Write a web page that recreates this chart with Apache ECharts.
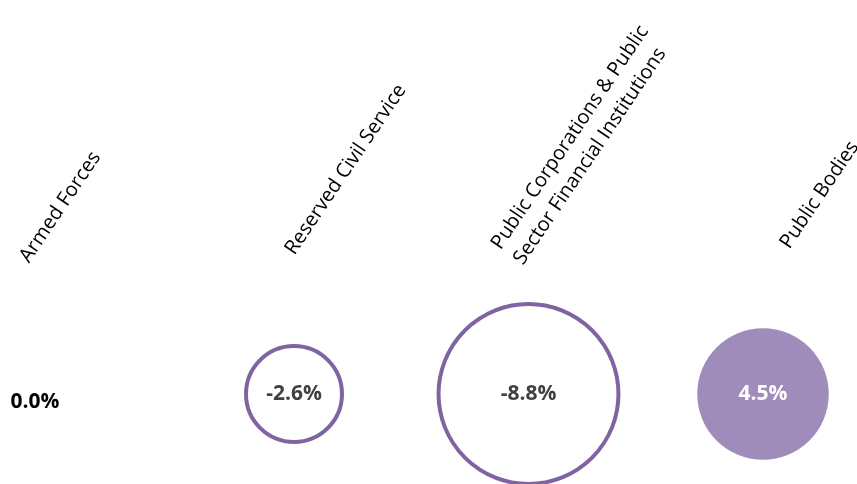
<!DOCTYPE html>
<html>
<head>
<meta charset="utf-8">
<title>Change by sector</title>
<script src="https://cdn.jsdelivr.net/npm/echarts@6/dist/echarts.min.js"></script>
<style>
  html, body { margin: 0; padding: 0; background: #ffffff; }
  #chart { width: 857px; height: 484px; }
</style>
</head>
<body>
<div id="chart"></div>
<script>
// Sector categories and their percentage change
const categories = [
  'Armed Forces',
  'Reserved Civil Service',
  'Public Corporations & Public\nSector Financial Institutions',
  'Public Bodies'
];
const changePct = [0.0, -2.6, -8.8, 4.5];

// Bubble styling
const PURPLE = '#8064A2';
const PURPLE_FILL = '#A08CBA';
const RING = 4;            // outline width for negative bubbles
const AREA_SCALE = 62;     // bubble diameter per sqrt(percentage point)

// Rotated headings: angle and per-category nudges (screen px, relative to the bubble centre)
const HEADING_ANGLE = 56;
const headingNudge = [[-24, -126], [7, -134], [1, -124], [33, -140]];

function bubbleSize(v) {
  const a = Math.abs(v);
  if (a === 0) return 0;
  const d = AREA_SCALE * Math.sqrt(a);
  return v < 0 ? d - RING : d;
}

// label offsets are applied in the label's rotated frame, so turn screen nudges into that frame
function toLabelFrame(s) {
  const t = HEADING_ANGLE * Math.PI / 180;
  const c = Math.cos(t), n = Math.sin(t);
  return [s[0] * c - s[1] * n, s[0] * n + s[1] * c];
}

const bubbles = changePct.map(function (v, i) {
  const item = { value: [categories[i], 0, v] };
  if (v < 0) {
    item.itemStyle = { color: '#ffffff', borderColor: PURPLE, borderWidth: RING, opacity: 1 };
    item.label = { color: '#404040' };
  } else if (v > 0) {
    item.itemStyle = { color: PURPLE_FILL, borderWidth: 0, opacity: 1 };
    item.label = { color: '#ffffff' };
  } else {
    item.itemStyle = { color: 'transparent', borderWidth: 0, opacity: 1 };
    item.label = { color: '#000000', position: 'left', distance: 0, offset: [0, 8] };
  }
  return item;
});

const headings = categories.map(function (c, i) {
  return { value: [c, 0], label: { offset: toLabelFrame(headingNudge[i]) } };
});

const chart = echarts.init(document.getElementById('chart'), null, { renderer: 'canvas' });
chart.setOption({
  animation: false,
  backgroundColor: '#ffffff',
  grid: { left: 59.5, right: 94, top: 304, bottom: 0 },
  xAxis: {
    type: 'category',
    data: categories,
    boundaryGap: false,
    show: false
  },
  yAxis: { type: 'value', min: -1, max: 1, show: false },
  series: [
    {
      type: 'scatter',
      name: 'change',
      clip: false,
      symbol: 'circle',
      symbolSize: function (d) { return bubbleSize(d[2]); },
      itemStyle: { opacity: 1 },
      data: bubbles,
      label: {
        show: true,
        position: 'inside',
        fontFamily: 'Open Sans',
        fontWeight: 'bold',
        fontSize: 21,
        formatter: function (p) { return p.value[2].toFixed(1) + '%'; }
      },
      emphasis: { disabled: true },
      z: 2
    },
    {
      type: 'scatter',
      name: 'headings',
      clip: false,
      symbolSize: 0,
      itemStyle: { opacity: 1 },
      data: headings,
      label: {
        show: true,
        position: 'inside',
        align: 'left',
        verticalAlign: 'bottom',
        rotate: HEADING_ANGLE,
        fontFamily: 'Open Sans',
        fontSize: 20,
        lineHeight: 27,
        color: '#000000',
        formatter: function (p) { return p.value[0]; }
      },
      emphasis: { disabled: true },
      z: 3
    }
  ]
});
</script>
</body>
</html>
